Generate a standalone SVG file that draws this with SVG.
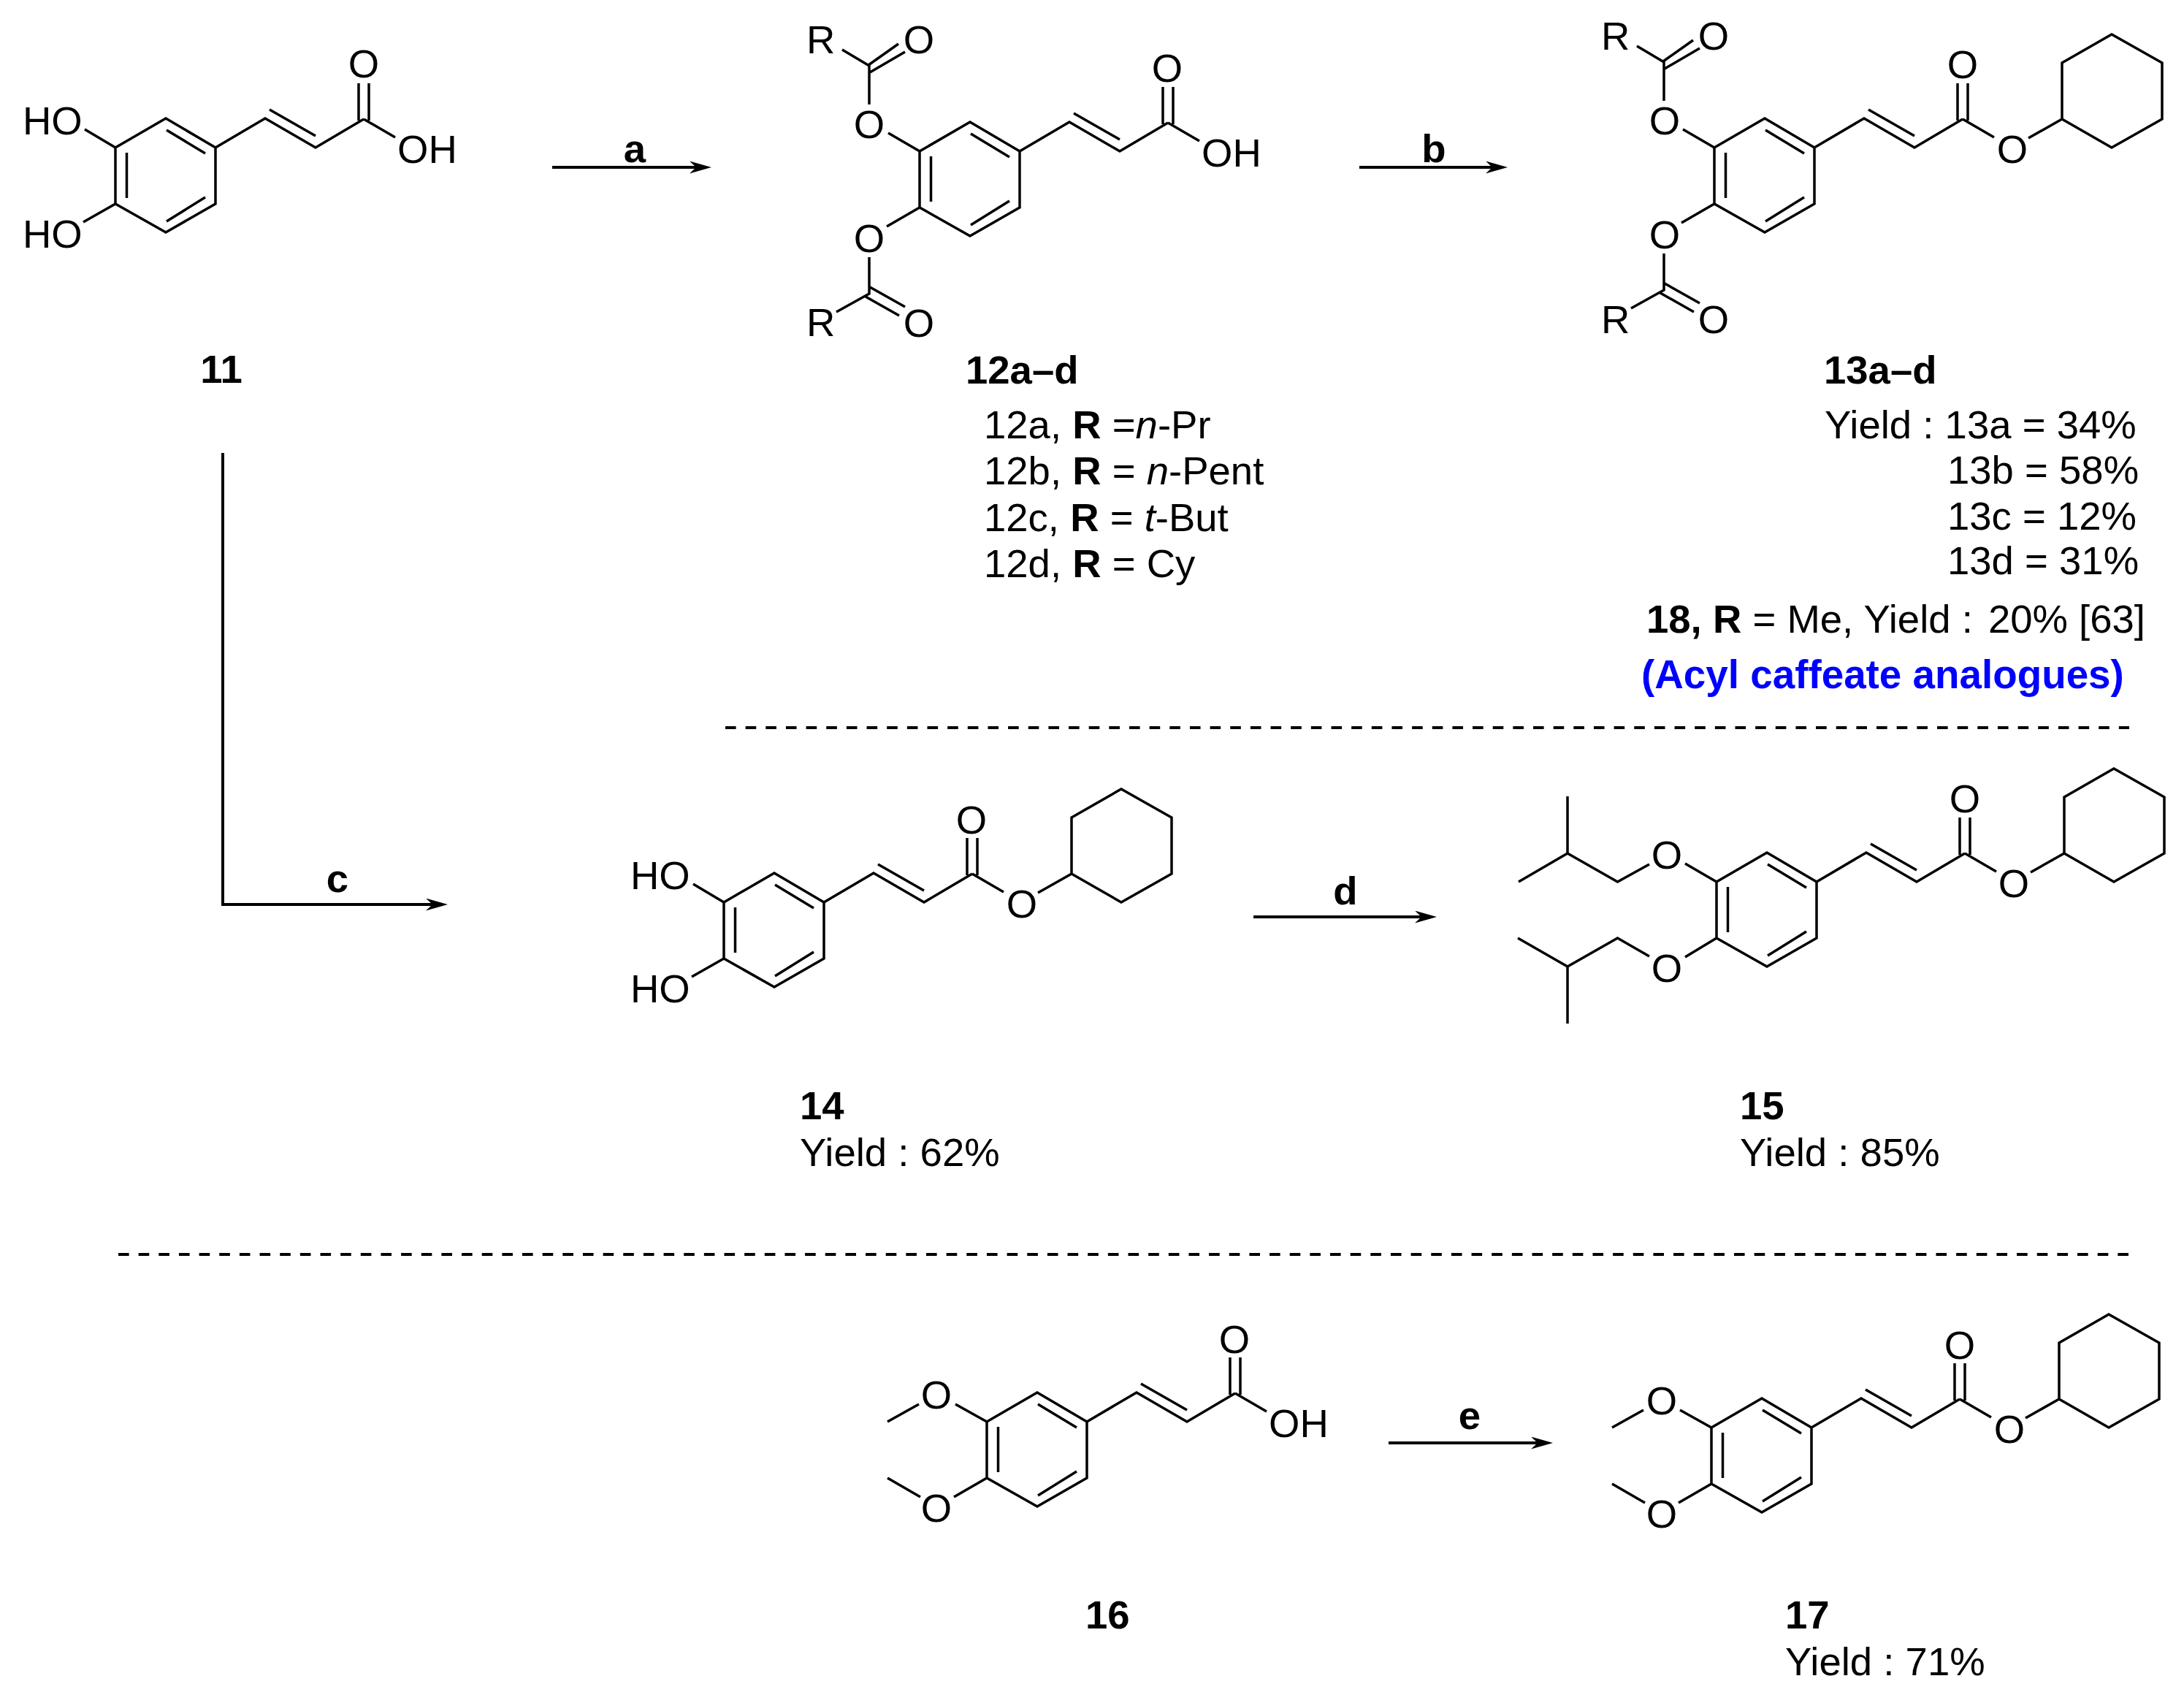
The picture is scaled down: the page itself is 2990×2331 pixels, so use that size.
<svg xmlns="http://www.w3.org/2000/svg" xmlns:xlink="http://www.w3.org/1999/xlink" width="2990" height="2331" viewBox="0 0 2990 2331">
<style>
text{font-family:"Liberation Sans",Arial,sans-serif;font-size:54.5px;fill:#000}
.b{font-weight:bold}
.i{font-style:italic}
.m{text-anchor:middle}
.bond{fill:none;stroke:#000;stroke-width:3.5;stroke-linejoin:miter;stroke-linecap:butt}
.arrow{fill:none;stroke:#000;stroke-width:4;marker-end:url(#head)}
.dash{fill:none;stroke:#000;stroke-width:4;stroke-dasharray:14.6 13.05}
</style>
<defs>
<marker id="head" markerUnits="userSpaceOnUse" markerWidth="30" markerHeight="17" refX="15" refY="8.5" orient="auto" viewBox="0 0 30 17"><path d="M0 0L30 8.5L0 17L9 8.5Z" fill="#000"/></marker>
<path id="sk" class="bond" d="M0 0L69 -40L137 0V77L69 116L0 77ZM15.5 7V69M70 -24L123 8M70 101L123 68M137 0L205 -40L274 0L340 -39M211 -52L274 -16M333 -88V-37M347 -88V-37M340 -39L383 -14"/>
<path id="cy" class="bond" d="M476 -39V-116L544 -155L613 -116V-39L544 0ZM476 -39L430 -13"/>
<path id="acyl" class="bond" d="M0 0L-43 -25M-69 -64V-117L-106 -139M-70 -118L-29 -147M-68 -108L-20 -136M0 77L-45 103M-69 145V195L-114 220M-68 186L-20 213M-74 199L-28 225"/>
<path id="hob" class="bond" d="M0 0L-42 -25M0 77L-44 102"/>
<path id="ome" class="bond" d="M0 0L-43 -24M-93 -24L-136 0M0 77L-45 103M-91 103L-136 77"/>
</defs>

<g id="connectors">
<line class="arrow" x1="756" y1="229" x2="959" y2="229"/>
<line class="arrow" x1="1861" y1="229" x2="2049" y2="229"/>
<path class="arrow" d="M305 620V1238H598"/>
<line class="arrow" x1="1716" y1="1255" x2="1952" y2="1255"/>
<line class="arrow" x1="1901" y1="1975" x2="2111" y2="1975"/>
<text class="b m" x="869" y="222">a</text>
<text class="b m" x="1963" y="222">b</text>
<text class="b m" x="462" y="1221">c</text>
<text class="b m" x="1842" y="1238">d</text>
<text class="b m" x="2012" y="1956">e</text>
</g>
<g id="separators">
<line class="dash" x1="993" y1="996" x2="2915" y2="996"/>
<line class="dash" x1="162" y1="1717" x2="2915" y2="1717"/>
</g>

<g id="node-11">
<use xlink:href="#sk" href="#sk" x="158" y="202"/>
<use xlink:href="#hob" href="#hob" x="158" y="202"/>
<text x="31" y="184">HO</text><text x="31" y="339">HO</text>
<text class="m" x="498" y="106">O</text><text x="544" y="223">OH</text>
<text class="b m" x="303" y="524">11</text>
</g>

<g id="node-12">
<use xlink:href="#sk" href="#sk" x="1259" y="207"/>
<use xlink:href="#acyl" href="#acyl" x="1259" y="207"/>
<text x="1104" y="73">R</text><text class="m" x="1258" y="73">O</text>
<text class="m" x="1190" y="189">O</text><text class="m" x="1190" y="345">O</text>
<text x="1104" y="460">R</text><text class="m" x="1258" y="461">O</text>
<text class="m" x="1598" y="112">O</text><text x="1645" y="228">OH</text>
<text class="b" x="1322" y="525">12a–d</text>
<text x="1347" y="600">12a, <tspan class="b">R</tspan> =<tspan class="i">n</tspan>-Pr</text>
<text x="1347" y="663">12b, <tspan class="b">R</tspan> = <tspan class="i">n</tspan>-Pent</text>
<text x="1347" y="727">12c, <tspan class="b">R</tspan> = <tspan class="i">t</tspan>-But</text>
<text x="1347" y="790">12d, <tspan class="b">R</tspan> = Cy</text>
</g>

<g id="node-13">
<use xlink:href="#sk" href="#sk" x="2347" y="202"/>
<use xlink:href="#cy" href="#cy" x="2347" y="202"/>
<use xlink:href="#acyl" href="#acyl" x="2347" y="202"/>
<text x="2192" y="68">R</text><text class="m" x="2346" y="68">O</text>
<text class="m" x="2279" y="184">O</text><text class="m" x="2279" y="340">O</text>
<text x="2192" y="456">R</text><text class="m" x="2346" y="456">O</text>
<text class="m" x="2687" y="107">O</text><text class="m" x="2755" y="223">O</text>
<text class="b" x="2497" y="525">13a–d</text>
<text x="2498" y="600">Yield : 13a = 34%</text>
<text x="2666" y="662">13b = 58%</text>
<text x="2666" y="724.5">13c = 12%</text>
<text x="2666" y="786">13d = 31%</text>
<text x="2254" y="866"><tspan class="b">18, R</tspan> = Me, Yield : <tspan x="2722">20% </tspan><tspan x="2846">[63]</tspan></text>
<text class="b" x="2247" y="942" style="fill:#0000ff;font-size:54.8px">(Acyl caffeate analogues)</text>
</g>

<g id="node-14">
<use xlink:href="#sk" href="#sk" x="991" y="1235"/>
<use xlink:href="#cy" href="#cy" x="991" y="1235"/>
<use xlink:href="#hob" href="#hob" x="991" y="1235"/>
<text x="863" y="1217">HO</text><text x="863" y="1372">HO</text>
<text class="m" x="1330" y="1141">O</text><text class="m" x="1399" y="1256">O</text>
<text class="b" x="1095" y="1532">14</text>
<text x="1095" y="1596">Yield : 62%</text>
</g>

<g id="node-15">
<use xlink:href="#sk" href="#sk" x="2350" y="1207"/>
<use xlink:href="#cy" href="#cy" x="2350" y="1207"/>
<path class="bond" d="M2350 1207L2307 1182M2258 1183L2214.5 1207L2146 1168V1090M2146 1168L2079 1207M2350 1284L2307 1310M2258 1309L2214.5 1284L2146 1323V1401M2146 1323L2078 1284"/>
<text class="m" x="2282" y="1189">O</text><text class="m" x="2282" y="1344">O</text>
<text class="m" x="2690" y="1112">O</text><text class="m" x="2757" y="1228">O</text>
<text class="b" x="2382" y="1532">15</text>
<text x="2382" y="1596">Yield : 85%</text>
</g>

<g id="node-16">
<use xlink:href="#sk" href="#sk" x="1351" y="1946"/>
<use xlink:href="#ome" href="#ome" x="1351" y="1946"/>
<text class="m" x="1282" y="1928">O</text><text class="m" x="1282" y="2083">O</text>
<text class="m" x="1690" y="1852">O</text><text x="1737" y="1967">OH</text>
<text class="b" x="1486" y="2229">16</text>
</g>

<g id="node-17">
<use xlink:href="#sk" href="#sk" x="2343" y="1954"/>
<use xlink:href="#cy" href="#cy" x="2343" y="1954"/>
<use xlink:href="#ome" href="#ome" x="2343" y="1954"/>
<text class="m" x="2275" y="1936">O</text><text class="m" x="2275" y="2091">O</text>
<text class="m" x="2683" y="1860">O</text><text class="m" x="2751" y="1975">O</text>
<text class="b" x="2444" y="2229">17</text>
<text x="2444" y="2293">Yield : 71%</text>
</g>
</svg>
